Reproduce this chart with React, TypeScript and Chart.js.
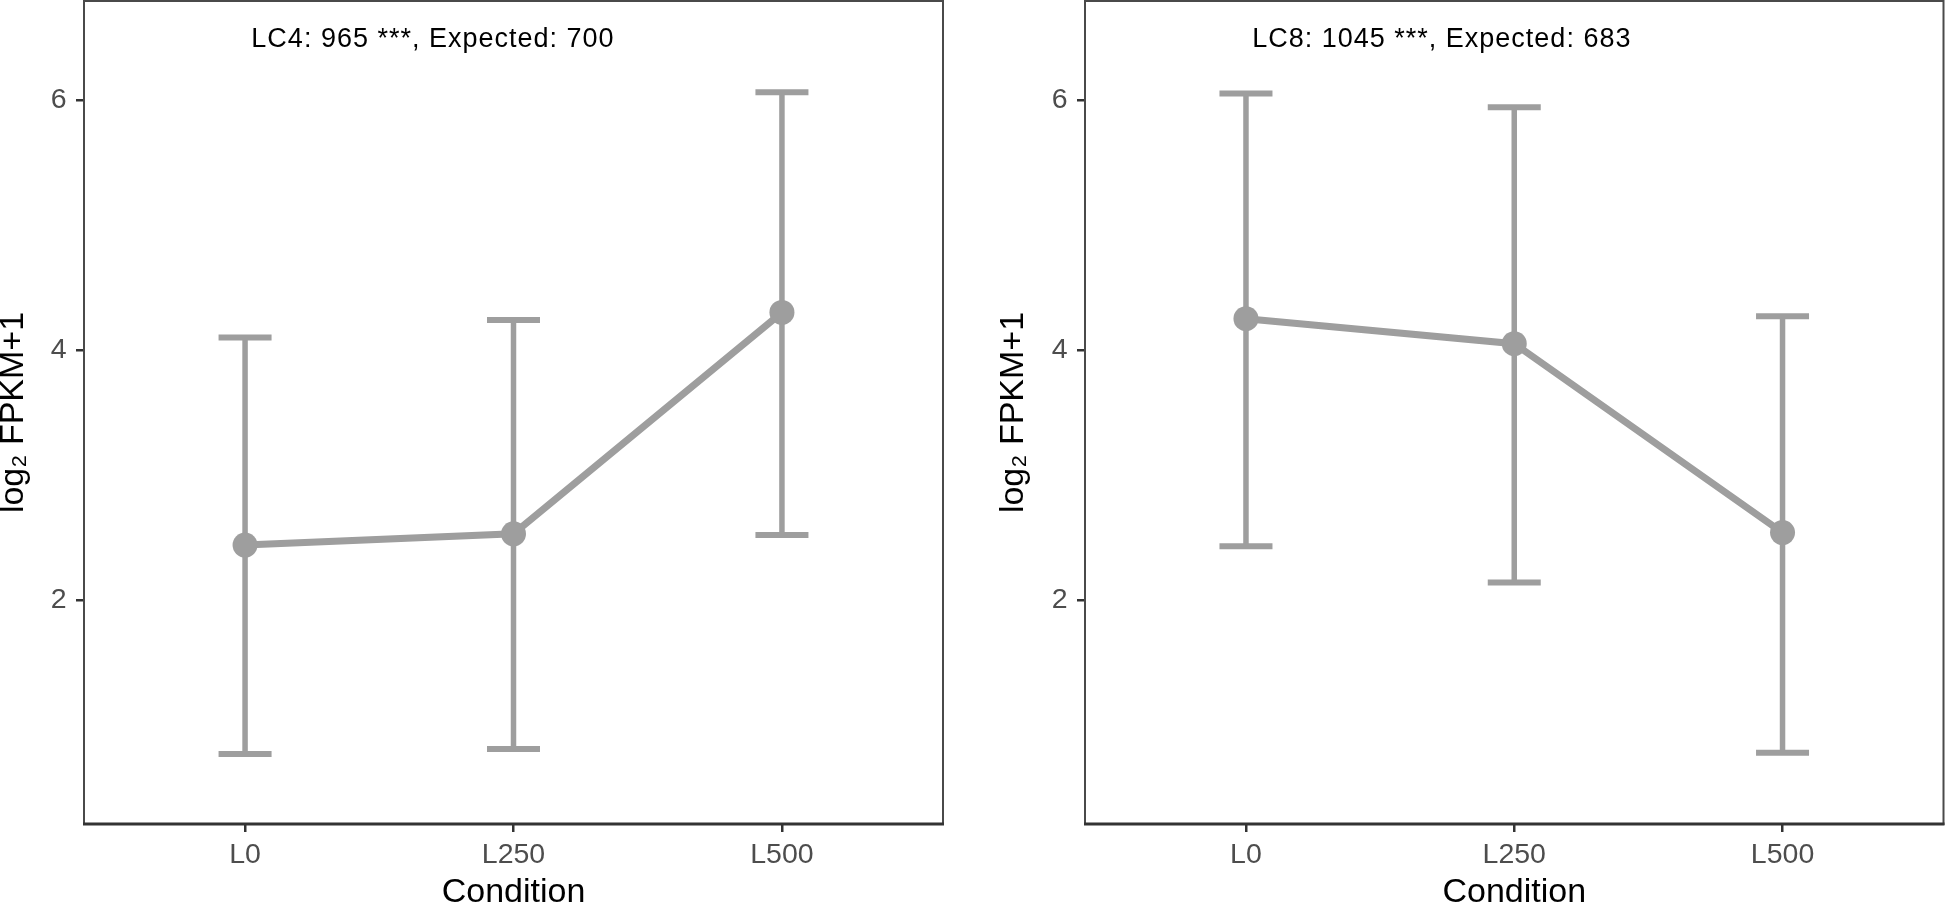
import React, { useEffect, useRef } from 'react';
import { Chart, registerables } from 'chart.js';

Chart.register(...registerables);

// ---- data ----
const categories = ['L0', 'L250', 'L500'];
const categoryIndex = [0, 1, 2];
const yTickValues = [2, 4, 6];
const yMin = 0.21;
const yMax = 6.79;
const xMin = -0.6;
const xMax = 2.6;

const lc4Mean = [2.44, 2.53, 4.3];
const lc4Lower = [0.77, 0.81, 2.52];
const lc4Upper = [4.1, 4.24, 6.06];
const lc4Label = 'LC4: 965 ***, Expected: 700';
const lc4LabelPos = [0.7, 6.48];

const lc8Mean = [4.25, 4.05, 2.54];
const lc8Lower = [2.43, 2.14, 0.78];
const lc8Upper = [6.05, 5.94, 4.27];
const lc8Label = 'LC8: 1045 ***, Expected: 683';
const lc8LabelPos = [0.73, 6.48];

const yTitle = 'log\u2082 FPKM+1';
const xTitle = 'Condition';

// ---- styles ----
const FONT = '"Liberation Sans", Arial, Helvetica, sans-serif';
const GRAY = '#9e9e9e';
const CW = 973;
const CH = 905;

type PanelProps = {
  means: number[];
  lowers: number[];
  uppers: number[];
  label: string;
  labelPos: number[];
  yAxisWidth: number;
  padRight: number;
  yTitlePad: number;
  left: number;
};

const zeroPadding = () => ({ left: 0, top: 0, right: 0, bottom: 0 });

const framePlugin = {
  id: 'frame',
  afterDatasetsDraw(chart: any) {
    const { ctx, chartArea: a } = chart;
    ctx.save();
    ctx.strokeStyle = '#4a4a4a';
    ctx.lineWidth = 2;
    ctx.strokeRect(a.left, a.top, a.right - a.left, a.bottom - a.top);
    ctx.strokeStyle = '#333333';
    ctx.lineWidth = 3;
    ctx.beginPath();
    ctx.moveTo(a.left - 1, a.bottom);
    ctx.lineTo(a.right + 1, a.bottom);
    ctx.stroke();
    ctx.restore();
  },
};

function Panel(p: PanelProps) {
  const ref = useRef<HTMLCanvasElement | null>(null);
  useEffect(() => {
    if (!ref.current) return;
    const annotationPlugin = {
      id: 'anno',
      afterDatasetsDraw(chart: any) {
        const { ctx, scales } = chart;
        const x = scales.x.getPixelForValue(p.labelPos[0]);
        const y = scales.y.getPixelForValue(p.labelPos[1]);
        ctx.save();
        ctx.font = `27px ${FONT}`;
        (ctx as any).letterSpacing = '1px';
        ctx.fillStyle = '#000000';
        ctx.textAlign = 'center';
        ctx.textBaseline = 'middle';
        ctx.fillText(p.label, x, y);
        ctx.restore();
      },
    };

    const datasets: any[] = [
      {
        data: p.means.map((y, i) => ({ x: categoryIndex[i], y })),
        borderColor: GRAY,
        borderWidth: 7,
        pointRadius: 12.5,
        pointBackgroundColor: GRAY,
        pointBorderWidth: 0,
        tension: 0,
      },
    ];
    categoryIndex.forEach((ci, i) => {
      datasets.push({
        data: [
          { x: ci, y: p.lowers[i] },
          { x: ci, y: p.uppers[i] },
        ],
        borderColor: GRAY,
        borderWidth: 5.5,
        pointStyle: 'line',
        pointRadius: 26.5,
        pointBorderWidth: 6,
        pointBorderColor: GRAY,
        pointBackgroundColor: GRAY,
      });
    });

    const chart = new Chart(ref.current, {
      type: 'line',
      data: { datasets },
      plugins: [framePlugin, annotationPlugin],
      options: {
        animation: false,
        responsive: false,
        devicePixelRatio: 1,
        events: [],
        layout: { autoPadding: false, padding: { left: 0, right: p.padRight, top: 1, bottom: 0 } },
        plugins: { legend: { display: false }, tooltip: { enabled: false } },
        scales: {
          x: {
            type: 'linear',
            min: xMin,
            max: xMax,
            afterBuildTicks: (s: any) => {
              s.ticks = categoryIndex.map((v) => ({ value: v }));
            },
            afterFit: (s: any) => {
              s.height = 81;
              s.paddingLeft = 0;
              s.paddingRight = 0;
              s.paddingTop = 0;
              s.paddingBottom = 0;
              s.getPadding = zeroPadding;
            },
            ticks: {
              callback: (v: any) => categories[v as number],
              font: { family: FONT, size: 28.5 },
              color: '#4d4d4d',
              padding: 6.5,
              maxRotation: 0,
              autoSkip: false,
            },
            grid: {
              drawOnChartArea: false,
              drawTicks: true,
              tickLength: 8,
              color: '#333333',
              lineWidth: 2.5,
            },
            border: { display: false },
            title: {
              display: true,
              text: xTitle,
              color: '#000000',
              font: { family: FONT, size: 34, lineHeight: 0.735 },
              padding: 0,
            },
          },
          y: {
            type: 'linear',
            min: yMin,
            max: yMax,
            afterBuildTicks: (s: any) => {
              s.ticks = yTickValues.map((v) => ({ value: v }));
            },
            afterFit: (s: any) => {
              s.width = p.yAxisWidth;
              s.paddingLeft = 0;
              s.paddingRight = 0;
              s.paddingTop = 0;
              s.paddingBottom = 0;
              s.getPadding = zeroPadding;
            },
            ticks: {
              callback: (v: any) => String(v),
              font: { family: FONT, size: 28.5 },
              color: '#4d4d4d',
              padding: 9.3,
            },
            grid: {
              drawOnChartArea: false,
              drawTicks: true,
              tickLength: 8,
              color: '#333333',
              lineWidth: 2.5,
            },
            border: { display: false },
            title: {
              display: true,
              text: yTitle,
              color: '#000000',
              font: { family: FONT, size: 34, lineHeight: 0.8 },
              padding: { top: p.yTitlePad, bottom: 0 },
            },
          },
        },
      } as any,
    });
    return () => chart.destroy();
  }, []);
  return (
    <canvas
      ref={ref}
      width={CW}
      height={CH}
      style={{ position: 'absolute', left: p.left, top: 0, width: CW, height: CH }}
    />
  );
}

export default function App() {
  return (
    <div style={{ position: 'absolute', left: 0, top: 0, width: 1946, height: 905, background: '#ffffff', overflow: 'hidden' }}>
      <Panel
        means={lc4Mean}
        lowers={lc4Lower}
        uppers={lc4Upper}
        label={lc4Label}
        labelPos={lc4LabelPos}
        yAxisWidth={84}
        padRight={30}
        yTitlePad={0}
        left={0}
      />
      <Panel
        means={lc8Mean}
        lowers={lc8Lower}
        uppers={lc8Upper}
        label={lc8Label}
        labelPos={lc8LabelPos}
        yAxisWidth={112}
        padRight={2.5}
        yTitlePad={27.3}
        left={973}
      />
    </div>
  );
}
